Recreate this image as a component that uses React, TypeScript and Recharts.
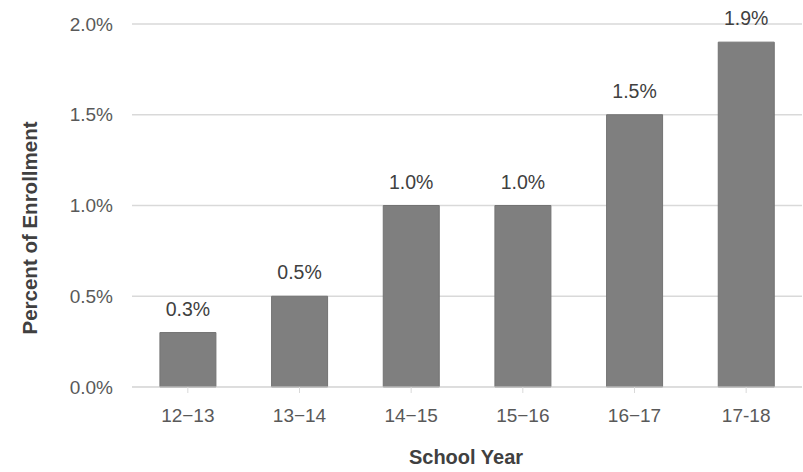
import { BarChart, Bar, XAxis, YAxis, CartesianGrid, LabelList } from 'recharts';

const years = ['12−13', '13−14', '14−15', '15−16', '16−17', '17-18'];
const percents = [0.3, 0.5, 1.0, 1.0, 1.5, 1.9];
const yTicks = [0, 0.5, 1.0, 1.5, 2.0];

const FONT = '"Liberation Sans", Arial, sans-serif';

export default function App() {
  const data = years.map((year, i) => ({ year, value: percents[i] }));

  return (
    <div style={{ position: 'absolute', left: 0, top: 0, width: 803, height: 472, background: '#fff' }}>
      <BarChart
        width={803}
        height={472}
        data={data}
        margin={{ top: 24, right: 1, bottom: 55, left: 0 }}
        barCategoryGap="25%"
      >
        <CartesianGrid vertical={false} stroke="#d9d9d9" strokeWidth={1.5} />
        <XAxis
          dataKey="year"
          height={30}
          stroke="#d9d9d9"
          tickSize={6}
          tickMargin={16}
          tick={{ fill: '#595959', fontSize: 19, fontFamily: FONT }}
          label={{
            value: 'School Year',
            content: () => (
              <text x={466} y={464} textAnchor="middle" fill="#404040" fontSize={20} fontWeight={700} fontFamily={FONT}>
                School Year
              </text>
            ),
          }}
        />
        <YAxis
          width={132}
          domain={[0, 2]}
          ticks={yTicks}
          axisLine={false}
          tickLine={false}
          tickSize={0}
          tickMargin={19}
          tickFormatter={(v: number) => `${v.toFixed(1)}%`}
          tick={{ fill: '#595959', fontSize: 19, fontFamily: FONT }}
          label={{
            value: 'Percent of Enrollment',
            content: () => (
              <text
                x={29}
                y={228}
                transform="rotate(-90, 29, 228)"
                textAnchor="middle"
                dominantBaseline="central"
                fill="#404040"
                fontSize={20.5}
                fontWeight={700}
                fontFamily={FONT}
              >
                Percent of Enrollment
              </text>
            ),
          }}
        />
        <Bar dataKey="value" fill="#7f7f7f" stroke="#737373" strokeWidth={1} isAnimationActive={false}>
          <LabelList
            dataKey="value"
            position="top"
            offset={17}
            formatter={(v: number) => `${Number(v).toFixed(1)}%`}
            style={{ fill: '#404040', fontSize: 19.5, fontFamily: FONT }}
          />
        </Bar>
      </BarChart>
    </div>
  );
}
